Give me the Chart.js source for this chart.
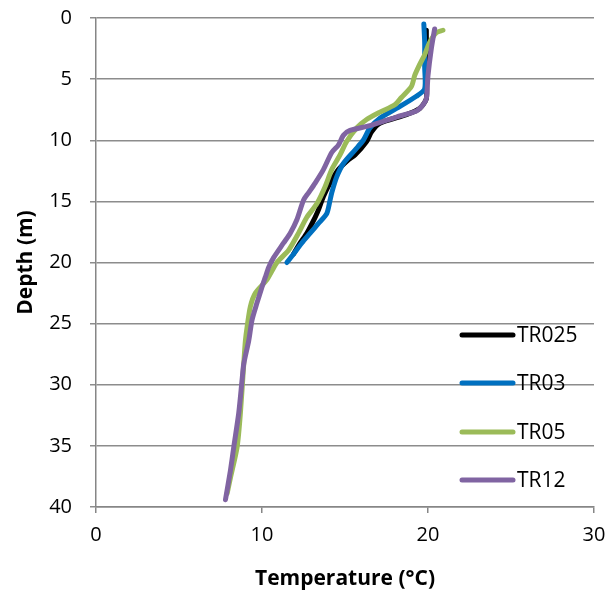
<!DOCTYPE html>
<html>
<head>
<meta charset="utf-8">
<script src="https://cdn.jsdelivr.net/npm/chart.js@4"></script>
<style>
  html, body { margin: 0; padding: 0; background: #fff; }
  #wrap { width: 607px; height: 595px; }
</style>
</head>
<body>
<div id="wrap"><canvas id="chart"></canvas></div>
<script>
// series labels and colours
const seriesNames = ['TR025', 'TR03', 'TR05', 'TR12'];
const seriesColors = ['#000000', '#0070C0', '#9BBB59', '#8064A2'];

// TR025 (depth m / temperature °C)
const tr025Depth = [1.0, 3.0, 5.0, 6.6, 7.4, 7.9, 8.6, 9.3, 10.1, 11.2, 11.6, 12.4, 13.5, 14.6, 15.7, 16.3, 17.6, 18.4, 19.3];
const tr025Temp  = [19.9, 19.9, 19.9, 19.9, 19.5, 18.7, 17.1, 16.6, 16.3, 15.6, 15.2, 14.6, 14.1, 13.7, 13.4, 13.2, 12.7, 12.3, 11.9];

// TR03
const tr03Depth = [0.5, 2.0, 4.0, 5.8, 6.4, 7.4, 8.2, 9.0, 10.0, 10.8, 11.9, 13.0, 14.3, 14.9, 16.0, 16.8, 17.6, 18.4, 19.3, 20.0];
const tr03Temp  = [19.75, 19.8, 19.8, 19.8, 19.3, 18.1, 17.1, 16.5, 16.1, 15.6, 14.9, 14.5, 14.2, 14.1, 13.9, 13.4, 12.9, 12.4, 11.9, 11.5];

// TR05
const tr05Depth = [1.0, 1.2, 2.0, 3.0, 3.8, 4.7, 5.6, 6.5, 7.1, 7.7, 8.3, 9.0, 10.1, 11.2, 12.4, 13.8, 15.2, 16.3, 17.6, 19.0, 20.0, 21.4, 22.5, 23.6, 25.3, 26.4, 28.3, 32.3, 35.1, 37.6, 38.9];
const tr05Temp  = [20.9, 20.5, 20.1, 19.8, 19.5, 19.2, 19.0, 18.4, 18.0, 17.1, 16.3, 15.7, 15.1, 14.7, 14.2, 13.8, 13.3, 12.7, 12.2, 11.6, 10.9, 10.3, 9.6, 9.3, 9.1, 9.0, 8.9, 8.7, 8.5, 8.1, 7.9];

// TR12
const tr12Depth = [0.9, 2.5, 4.7, 6.6, 7.1, 7.6, 8.1, 8.8, 9.2, 9.6, 10.4, 11.0, 12.4, 13.5, 14.3, 14.9, 16.5, 17.6, 18.4, 19.6, 20.4, 21.2, 22.0, 23.3, 24.7, 26.4, 28.3, 29.6, 32.3, 35.1, 37.0, 39.4];
const tr12Temp  = [20.4, 20.2, 20.0, 19.9, 19.7, 19.3, 18.1, 16.5, 15.3, 14.9, 14.6, 14.2, 13.7, 13.2, 12.8, 12.5, 12.1, 11.7, 11.3, 10.7, 10.4, 10.2, 10.0, 9.7, 9.4, 9.2, 8.9, 8.8, 8.6, 8.3, 8.1, 7.8];

// axis ticks
const tempTicks = [0, 10, 20, 30];
const depthTicks = [0, 5, 10, 15, 20, 25, 30, 35, 40];

const depths = [tr025Depth, tr03Depth, tr05Depth, tr12Depth];
const temps = [tr025Temp, tr03Temp, tr05Temp, tr12Temp];

const FONT = "'Open Sans', sans-serif";

const datasets = seriesNames.map((name, i) => ({
    label: name,
    data: temps[i].map((t, k) => ({ x: t, y: depths[i][k] })),
    showLine: true,
    borderColor: seriesColors[i],
    backgroundColor: seriesColors[i],
    borderWidth: 5,
    borderCapStyle: 'round',
    borderJoinStyle: 'round',
    pointRadius: 0,
    tension: 0.25,
    order: seriesNames.length - i // later series drawn on top
}));

// legend drawn inside the plot, like the original
const insideLegend = {
    id: 'insideLegend',
    afterDraw(chart) {
        const ctx = chart.ctx;
        const rowY = [335, 383, 432, 480];
        ctx.save();
        ctx.font = '21px ' + FONT;
        ctx.textBaseline = 'middle';
        ctx.lineCap = 'round';
        seriesNames.forEach((name, i) => {
            ctx.strokeStyle = seriesColors[i];
            ctx.lineWidth = 5;
            ctx.beginPath();
            ctx.moveTo(462, rowY[i]);
            ctx.lineTo(513, rowY[i]);
            ctx.stroke();
            ctx.fillStyle = '#000';
            ctx.fillText(name, 517, rowY[i] + 1);
        });
        ctx.restore();
    }
};

new Chart(document.getElementById('chart'), {
    type: 'scatter',
    data: { datasets },
    options: {
        responsive: true,
        maintainAspectRatio: false,
        animation: false,
        layout: { padding: { top: 18, right: 13, left: 0, bottom: 0 } },
        plugins: {
            legend: { display: false },
            tooltip: { enabled: false }
        },
        scales: {
            x: {
                type: 'linear',
                min: 0,
                max: 30,
                afterFit: s => {
                    s.height = 88;
                    s.paddingLeft = 0;
                    s.paddingRight = 0;
                },
                afterBuildTicks: s => { s.ticks = tempTicks.map(v => ({ value: v })); },
                ticks: { color: '#000', font: { family: FONT, size: 20 }, padding: 10 },
                grid: { drawOnChartArea: false, drawTicks: true, tickLength: 6, color: '#868686', lineWidth: 1.5 },
                border: { color: '#868686', width: 1.5 },
                title: {
                    display: true,
                    text: 'Temperature (°C)',
                    color: '#000',
                    font: { family: FONT, size: 21, weight: 'bold' },
                    padding: { top: 4, bottom: 3 }
                }
            },
            y: {
                type: 'linear',
                reverse: true,
                min: 0,
                max: 40,
                afterFit: s => {
                    s.width = 96;
                    s.paddingTop = 0;
                    s.paddingBottom = 0;
                },
                afterBuildTicks: s => { s.ticks = depthTicks.map(v => ({ value: v })); },
                ticks: { color: '#000', font: { family: FONT, size: 20 }, padding: 18 },
                grid: { color: '#8c8c8c', lineWidth: 1.5, tickLength: 6 },
                border: { color: '#868686', width: 1.5 },
                title: {
                    display: true,
                    text: 'Depth (m)',
                    color: '#000',
                    font: { family: FONT, size: 21, weight: 'bold' },
                    padding: { top: 13, bottom: 4 }
                }
            }
        }
    },
    plugins: [insideLegend]
});
</script>
</body>
</html>
